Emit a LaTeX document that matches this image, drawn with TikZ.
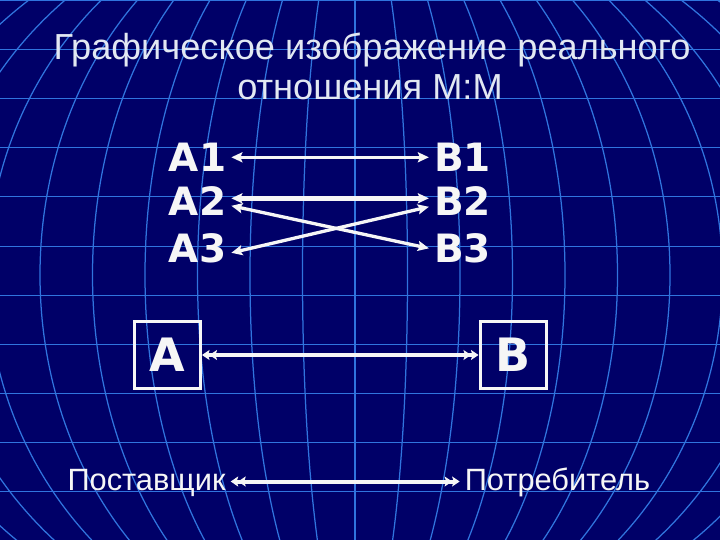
\documentclass[tikz,border=0pt]{standalone}
\usepackage{fontspec}
\setmainfont{Liberation Sans}
\newfontfamily\dvs{DejaVu Sans}
\usetikzlibrary{arrows.meta}
\definecolor{bg}{RGB}{0,0,104}
\definecolor{gridc}{RGB}{48,116,222}
\definecolor{ttl}{RGB}{226,232,242}
\definecolor{fg}{RGB}{246,246,246}
\tikzset{
  gridline/.style={draw=gridc, line width=1.25pt},
  ttlstyle/.style={text=ttl, inner sep=0pt, font=\fontsize{36.2}{40}\selectfont},
  ab/.style={text=fg, inner xsep=5pt, inner ysep=0pt, text height=29pt, text depth=0pt,
    font=\dvs\bfseries\fontsize{39}{44}\selectfont},
  boxnode/.style={draw=fg, line width=3pt, text=fg, minimum width=66pt, minimum height=67pt,
    inner sep=0pt, font=\dvs\bfseries\fontsize{46}{50}\selectfont},
  lbl/.style={text=fg, inner xsep=5pt, inner ysep=0pt, text height=22pt, text depth=5pt,
    font=\fontsize{30.8}{34}\selectfont},
  tip/.tip={Stealth[length=11pt,width=10pt,inset=2pt]},
  dtip/.tip={Stealth[length=7.5pt,width=10pt,inset=1.5pt]Stealth[length=7.5pt,width=10pt,inset=1.5pt]},
  conn/.style={draw=fg, {tip}-{tip}},
  dconn/.style={draw=fg, line width=4pt, {dtip}-{dtip}}
}
\begin{document}
\begin{tikzpicture}[x=1pt,y=1pt]
\fill[bg] (0,0) rectangle (720,-540);
\useasboundingbox (0,0) rectangle (720,-540);
\begin{scope}
  \clip (0,0) rectangle (720,-540);
  \foreach \k in {1,...,10}
    \draw[gridline] (355,-275) ellipse [x radius=52.5*\k, y radius=380];
  \draw[gridline] (355,0) -- (355,-540);
  \foreach \j in {0,...,11}
    \draw[gridline, line width=1pt] (0,-1-49*\j) -- (720,-1-49*\j);
\end{scope}

\node[ttlstyle, anchor=base] (t1) at (372,-60) {Графическое изображение реального};
\node[ttlstyle, anchor=base] (t2) at (370,-100) {отношения М:М};

\node[ab, anchor=south] (A1) at (197.5,-172) {A1};
\node[ab, anchor=south] (A2) at (197.5,-216) {A2};
\node[ab, anchor=south] (A3) at (197.5,-263) {A3};
\node[ab, anchor=south] (B1) at (462.5,-172) {B1};
\node[ab, anchor=south] (B2) at (462.5,-216) {B2};
\node[ab, anchor=south] (B3) at (462.5,-263) {B3};

\draw[conn, line width=2.7pt] (A1) -- (B1);
\draw[conn, line width=4.5pt] ([yshift=3pt]A2.east) -- ([yshift=3pt]B2.west);
\draw[conn, line width=3.3pt] ([yshift=-4.5pt]A2.east) -- (B3.west);
\draw[conn, line width=3.3pt] ([yshift=-4.5pt]A3.east) -- ([yshift=-5.5pt]B2.west);

\node[boxnode] (A) at (167.5,-355) {A};
\node[boxnode] (B) at (513,-355) {B};
\draw[dconn] (A) -- (B);

\node[lbl, anchor=base] (P) at (146.5,-490) {Поставщик};
\node[lbl, anchor=base] (C) at (557.5,-490) {Потребитель};
\draw[dconn] (P) -- (C);
\end{tikzpicture}
\end{document}
